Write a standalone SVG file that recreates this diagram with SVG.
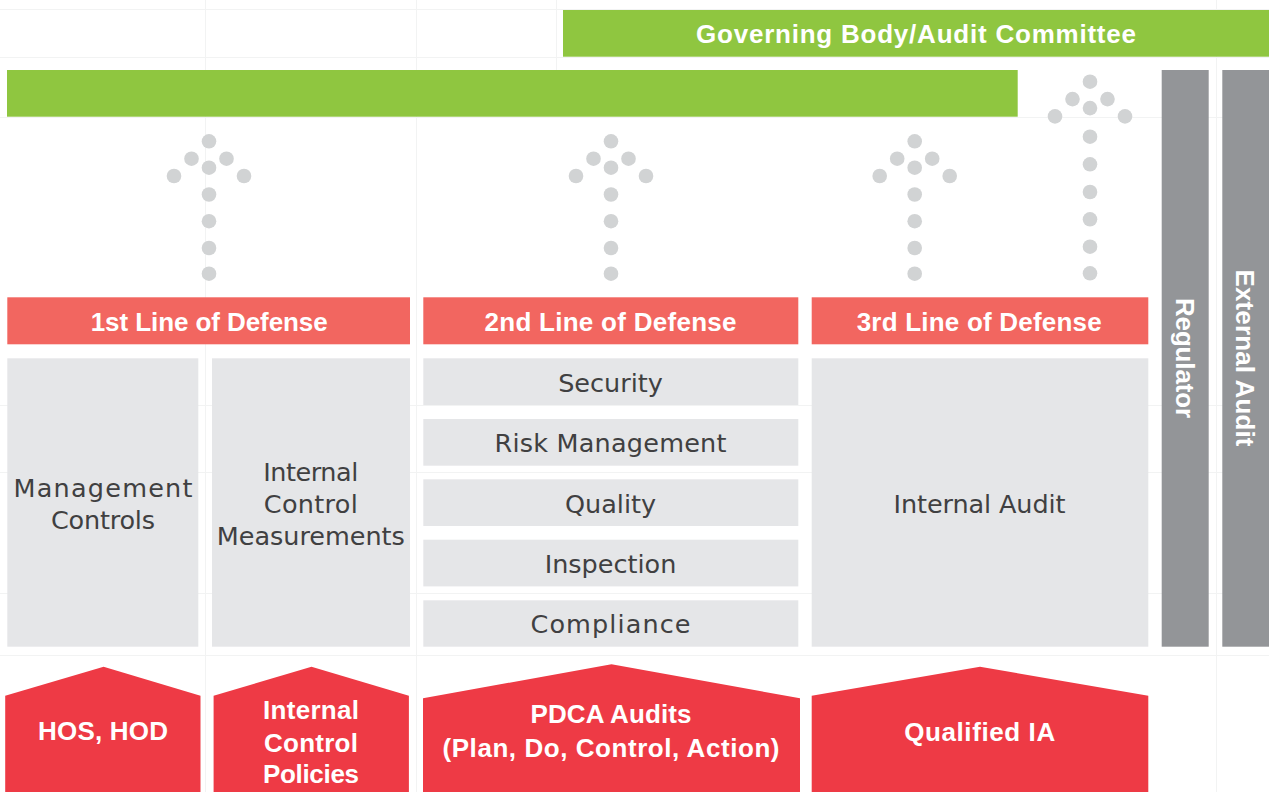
<svg xmlns="http://www.w3.org/2000/svg" width="1269" height="792" viewBox="0 0 1269 792">
  <style>
    .grid { stroke: #f2f3f3; stroke-width: 1; fill: none; }
    .green { fill: #8fc640; }
    .header { fill: #f26660; }
    .cell { fill: #e5e6e8; }
    .bar { fill: #939598; }
    .base { fill: #ee3a45; }
    .dot { fill: #d1d3d4; }
    .title { font-family: "Liberation Sans", Arial, sans-serif; font-weight: bold; font-size: 26px; fill: #ffffff; text-anchor: middle; }
    .label { font-family: "DejaVu Sans", "Liberation Sans", sans-serif; font-size: 25.5px; fill: #404041; text-anchor: middle; }
  </style>
  <defs>
    <!-- head of a dotted upward arrow; origin is the tip dot -->
    <g id="arrow-head">
      <circle class="dot" cx="0" cy="0" r="7.3"/>
      <circle class="dot" cx="-17.5" cy="17.4" r="7.3"/>
      <circle class="dot" cx="17.5" cy="17.4" r="7.3"/>
      <circle class="dot" cx="0" cy="26.4" r="7.3"/>
      <circle class="dot" cx="-35" cy="34.7" r="7.3"/>
      <circle class="dot" cx="35" cy="34.7" r="7.3"/>
    </g>
    <!-- four-dot shaft used under the three short arrows -->
    <g id="arrow-shaft">
      <circle class="dot" cx="0" cy="53.2" r="7.3"/>
      <circle class="dot" cx="0" cy="79.9" r="7.3"/>
      <circle class="dot" cx="0" cy="106.7" r="7.3"/>
      <circle class="dot" cx="0" cy="132.4" r="7.3"/>
    </g>
  </defs>

  <rect width="1269" height="792" fill="#ffffff"/>

  <!-- faint background table grid -->
  <g id="grid" class="grid">
    <line x1="205.5" y1="0" x2="205.5" y2="792"/>
    <line x1="416.5" y1="0" x2="416.5" y2="792"/>
    <line x1="556.5" y1="0" x2="556.5" y2="70"/>
    <line x1="1216.5" y1="0" x2="1216.5" y2="792"/>
    <line x1="0" y1="9.5" x2="1269" y2="9.5"/>
    <line x1="0" y1="57.5" x2="1269" y2="57.5"/>
    <line x1="0" y1="117.5" x2="1269" y2="117.5"/>
    <line x1="0" y1="405.5" x2="1269" y2="405.5"/>
    <line x1="0" y1="472.5" x2="1269" y2="472.5"/>
    <line x1="0" y1="593.5" x2="1269" y2="593.5"/>
    <line x1="0" y1="655.5" x2="1269" y2="655.5"/>
  </g>

  <!-- governance bars -->
  <g id="governing-body">
    <rect class="green" x="563" y="10" width="706" height="46.7"/>
    <text class="title" x="916" y="43.3" textLength="440">Governing Body/Audit Committee</text>
  </g>
  <g id="senior-management">
    <rect class="green" x="7" y="70" width="1010.7" height="46.7"/>
  </g>

  <!-- side bars -->
  <g id="regulator">
    <rect class="bar" x="1161.7" y="70" width="47" height="576.7"/>
    <text class="title" transform="translate(1176 358) rotate(90)" x="0" y="0" textLength="120">Regulator</text>
  </g>
  <g id="external-audit">
    <rect class="bar" x="1222.3" y="70" width="46.7" height="576.7"/>
    <text class="title" transform="translate(1236 358) rotate(90)" x="0" y="0" textLength="177">External Audit</text>
  </g>

  <!-- dotted arrows pointing up to the governance bars -->
  <g id="connectors">
    <g transform="translate(209 141.3)">
      <use href="#arrow-head"/>
      <use href="#arrow-shaft"/>
    </g>
    <g transform="translate(611 141.3)">
      <use href="#arrow-head"/>
      <use href="#arrow-shaft"/>
    </g>
    <g transform="translate(914.7 141.3)">
      <use href="#arrow-head"/>
      <use href="#arrow-shaft"/>
    </g>
    <g transform="translate(1090 81.7)">
      <use href="#arrow-head"/>
      <circle class="dot" cx="0" cy="55" r="7.3"/>
      <circle class="dot" cx="0" cy="82.6" r="7.3"/>
      <circle class="dot" cx="0" cy="110.3" r="7.3"/>
      <circle class="dot" cx="0" cy="137.6" r="7.3"/>
      <circle class="dot" cx="0" cy="165" r="7.3"/>
      <circle class="dot" cx="0" cy="191.6" r="7.3"/>
    </g>
  </g>

  <!-- line headers -->
  <g id="first-line">
    <rect class="header" x="7.3" y="297.3" width="402.7" height="47"/>
    <text class="title" x="209.2" y="331" textLength="237">1st Line of Defense</text>
  </g>
  <g id="second-line">
    <rect class="header" x="423.3" y="297.3" width="375" height="47"/>
    <text class="title" x="610.5" y="331" textLength="252">2nd Line of Defense</text>
  </g>
  <g id="third-line">
    <rect class="header" x="811.7" y="297.3" width="336.6" height="47"/>
    <text class="title" x="979.2" y="331" textLength="245">3rd Line of Defense</text>
  </g>

  <!-- first line cells -->
  <g id="management-controls">
    <rect class="cell" x="7.3" y="358.3" width="191" height="288.4"/>
    <text class="label" x="103" y="496.7" textLength="179">Management</text>
    <text class="label" x="103" y="529" textLength="104">Controls</text>
  </g>
  <g id="internal-control-measurements">
    <rect class="cell" x="212" y="358.3" width="198" height="288.4"/>
    <text class="label" x="310.8" y="481" textLength="95">Internal</text>
    <text class="label" x="310.8" y="512.7" textLength="94">Control</text>
    <text class="label" x="310.8" y="545" textLength="188">Measurements</text>
  </g>

  <!-- second line cells -->
  <g id="security">
    <rect class="cell" x="423.3" y="358.3" width="375" height="46.7"/>
    <text class="label" x="610.5" y="391.7">Security</text>
  </g>
  <g id="risk-management">
    <rect class="cell" x="423.3" y="419" width="375" height="46.7"/>
    <text class="label" x="610.5" y="452.3" textLength="232">Risk Management</text>
  </g>
  <g id="quality">
    <rect class="cell" x="423.3" y="479.3" width="375" height="46.7"/>
    <text class="label" x="610.5" y="512.7">Quality</text>
  </g>
  <g id="inspection">
    <rect class="cell" x="423.3" y="539.7" width="375" height="46.7"/>
    <text class="label" x="610.5" y="573.3">Inspection</text>
  </g>
  <g id="compliance">
    <rect class="cell" x="423.3" y="600.3" width="375" height="46.4"/>
    <text class="label" x="610.5" y="633.3" textLength="160">Compliance</text>
  </g>

  <!-- third line cell -->
  <g id="internal-audit">
    <rect class="cell" x="811.7" y="358.3" width="336.6" height="288.4"/>
    <text class="label" x="979.5" y="512.7" textLength="172">Internal Audit</text>
  </g>

  <!-- pentagon bases -->
  <g id="hos-hod">
    <polygon class="base" points="5.2,695.7 103.6,666.7 200.5,695.7 200.5,792 5.2,792"/>
    <text class="title" x="103" y="740" textLength="130">HOS, HOD</text>
  </g>
  <g id="internal-control-policies">
    <polygon class="base" points="213.6,695.7 311.5,666.7 408.9,695.7 408.9,792 213.6,792"/>
    <text class="title" x="311" y="719" textLength="96">Internal</text>
    <text class="title" x="311" y="751.7" textLength="94">Control</text>
    <text class="title" x="311" y="782.7" textLength="96">Policies</text>
  </g>
  <g id="pdca-audits">
    <polygon class="base" points="423,698.3 611.5,664.3 800,698.3 800,792 423,792"/>
    <text class="title" x="611" y="723.3" textLength="161">PDCA Audits</text>
    <text class="title" x="611" y="756.7" textLength="337">(Plan, Do, Control, Action)</text>
  </g>
  <g id="qualified-ia">
    <polygon class="base" points="811.7,695.7 980,666.7 1148.3,695.7 1148.3,792 811.7,792"/>
    <text class="title" x="979.7" y="740.7" textLength="151">Qualified IA</text>
  </g>
</svg>
